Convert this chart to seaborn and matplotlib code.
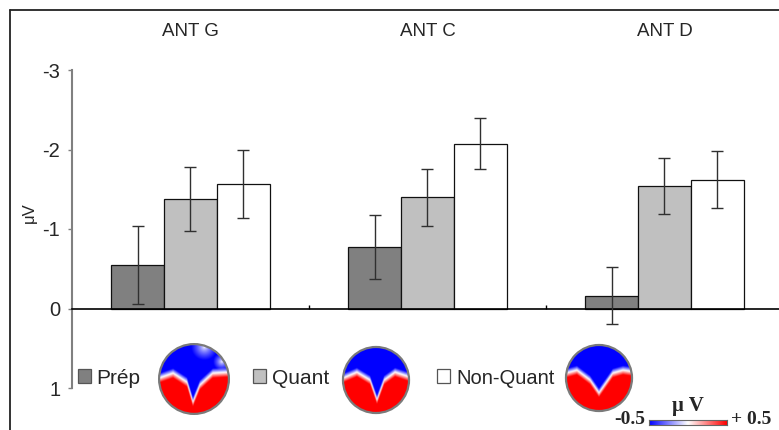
import numpy as np
import pandas as pd
import matplotlib
matplotlib.use("Agg")
import matplotlib.pyplot as plt
import matplotlib.transforms as mtransforms
from matplotlib.patches import Rectangle, Circle
from matplotlib.lines import Line2D
import seaborn as sns

# ---- data -------------------------------------------------------------
regions = ["ANT G", "ANT C", "ANT D"]
conditions = ["Prép", "Quant", "Non-Quant"]
prep_mean = [-0.55, -0.77, -0.16]
prep_err = [0.49, 0.40, 0.36]
quant_mean = [-1.38, -1.40, -1.54]
quant_err = [0.40, 0.36, 0.35]
nonquant_mean = [-1.57, -2.07, -1.62]
nonquant_err = [0.43, 0.32, 0.36]
y_ticks = [-3, -2, -1, 0, 1]
bar_colors = ["#808080", "#c0c0c0", "#ffffff"]

means = {"Prép": prep_mean, "Quant": quant_mean, "Non-Quant": nonquant_mean}
errs = {"Prép": prep_err, "Quant": quant_err, "Non-Quant": nonquant_err}

df = pd.DataFrame(
    [(r, c, means[c][i]) for c in conditions for i, r in enumerate(regions)],
    columns=["region", "condition", "amplitude"],
)

sns.set_style("white")
plt.rcParams["font.family"] = ["Liberation Sans", "DejaVu Sans"]

W, H = 779, 430
fig = plt.figure(figsize=(W / 100, H / 100), dpi=100)


def px_box(x0, y0, x1, y1):
    """Figure-fraction rectangle from pixel corners (top-left origin)."""
    return [x0 / W, 1 - y1 / H, (x1 - x0) / W, (y1 - y0) / H]


ax = fig.add_axes(px_box(72, 70, 783, 388))
sns.barplot(
    data=df, x="region", y="amplitude", hue="condition",
    order=regions, hue_order=conditions, palette=bar_colors,
    errorbar=None, width=0.67, saturation=1, edgecolor="#111111",
    linewidth=0.9, legend=False, ax=ax,
)

# error bars at the centre of each bar
for cond, cont in zip(conditions, ax.containers):
    for i, bar in enumerate(cont):
        xc = bar.get_x() + bar.get_width() / 2
        ax.errorbar(xc, means[cond][i], yerr=errs[cond][i], fmt="none",
                    ecolor="#303030", elinewidth=1.0, capsize=4.3,
                    capthick=1.0, zorder=5)

ax.set_xlim(-0.5, 2.5)
ax.set_ylim(1, -3)
ax.set_xlabel("")
ax.set_ylabel("")
ax.set_facecolor("none")

for s in ("top", "right"):
    ax.spines[s].set_visible(False)
ax.spines["left"].set_color("#808080")
ax.spines["left"].set_linewidth(1.5)
ax.spines["bottom"].set_position(("data", 0))
ax.spines["bottom"].set_color("black")
ax.spines["bottom"].set_linewidth(1.2)

ax.set_yticks(y_ticks)
ax.set_yticklabels([str(t) for t in y_ticks])
ax.tick_params(axis="y", direction="out", length=3, width=1.0,
               color="#808080", labelsize=14.5, pad=5.5, left=True)
ax.set_xticks([0.5, 1.5])
ax.set_xticklabels([])
ax.tick_params(axis="x", direction="in", length=3, width=1.0,
               color="black", bottom=True)

# region titles above each group
blend = mtransforms.blended_transform_factory(ax.transData, fig.transFigure)
for i, r in enumerate(regions):
    ax.text(i, 1 - 32 / H, r, transform=blend, ha="center", va="center",
            fontsize=13.5)

# y-axis unit
fig.text(29 / W, 1 - 213 / H, "μV", rotation=90, ha="center", va="center",
         fontsize=12)

# outer frame lines
fig.add_artist(Line2D([10 / W, 10 / W], [0, 1 - 10 / H],
                      transform=fig.transFigure, color="#222222", lw=1.3))
fig.add_artist(Line2D([10 / W, 1], [1 - 10 / H, 1 - 10 / H],
                      transform=fig.transFigure, color="#222222", lw=1.3))

# legend entries
legend_items = [
    ("Prép", 78, 96, 15),
    ("Quant", 253, 272, 15),
    ("Non-Quant", 437, 456, 14.5),
]
for (lab, sx, tx, fs), col in zip(legend_items, bar_colors):
    fig.add_artist(Rectangle((sx / W, 1 - 383 / H), 13 / W, 14 / H,
                             transform=fig.transFigure, facecolor=col,
                             edgecolor="#555555", lw=0.9))
    fig.text(tx / W, 1 - 376 / H, lab, ha="left", va="center_baseline",
             fontsize=fs)

# scalp maps
def scalp(cx, cy, r, bx, by, blobs):
    a = fig.add_axes(px_box(cx - r - 2, cy - r - 2, cx + r + 2, cy + r + 2))
    g = np.linspace(-1.06, 1.06, 240)
    xx, yy = np.meshgrid(g, g)
    b = np.interp(xx, bx, by)
    v = np.clip((yy - b) / 0.14, -1, 1)
    for (ux, uy, ur) in blobs:
        d = np.hypot(xx - ux, yy - uy) / ur
        v = v * np.clip(d, 0, 1) ** 0.7
    img = plt.cm.bwr(0.5 - 0.5 * v)
    im = a.imshow(img, extent=[-1.06, 1.06, -1.06, 1.06], origin="lower",
                  interpolation="bilinear")
    clip = Circle((0, 0), 1.0, transform=a.transData)
    im.set_clip_path(clip)
    a.add_patch(Circle((0, 0), 1.0, fill=False, edgecolor="#7a7a7a", lw=1.6))
    a.set_xlim(-1.06, 1.06)
    a.set_ylim(-1.06, 1.06)
    a.set_aspect("equal")
    a.axis("off")


scalp(194, 379, 35,
      [-1.0, -0.6, -0.2, -0.03, 0.17, 0.54, 1.0],
      [0.03, 0.17, -0.09, -0.66, -0.17, 0.17, 0.2],
      [(0.3, 0.92, 0.38), (0.8, 0.5, 0.25)])
scalp(376, 380, 33,
      [-1.0, -0.58, -0.18, 0.03, 0.25, 0.58, 1.0],
      [0.06, 0.24, 0.0, -0.6, 0.0, 0.24, 0.1],
      [])
scalp(599, 378, 33,
      [-1.0, -0.67, -0.27, 0.0, 0.42, 0.73, 1.0],
      [0.15, 0.24, -0.06, -0.45, 0.15, 0.24, 0.2],
      [])

# colour scale
cax = fig.add_axes(px_box(649, 420, 727, 425))
cax.imshow(np.linspace(0, 1, 256)[None, :], cmap="bwr", aspect="auto",
           extent=[0, 1, 0, 1])
cax.set_xticks([])
cax.set_yticks([])
for s in cax.spines.values():
    s.set_color("#666666")
    s.set_linewidth(0.8)

serif = ["Liberation Serif", "DejaVu Serif"]
fig.text(645 / W, 1 - 424 / H, "-0.5", ha="right", va="baseline",
         fontsize=14, fontweight="bold", family=serif)
fig.text(731 / W, 1 - 424 / H, "+ 0.5", ha="left", va="baseline",
         fontsize=14, fontweight="bold", family=serif)
fig.text(688 / W, 1 - 411 / H, "μ V", ha="center", va="baseline",
         fontsize=15, fontweight="bold", family=serif)

fig.savefig("out.png", dpi=100)
